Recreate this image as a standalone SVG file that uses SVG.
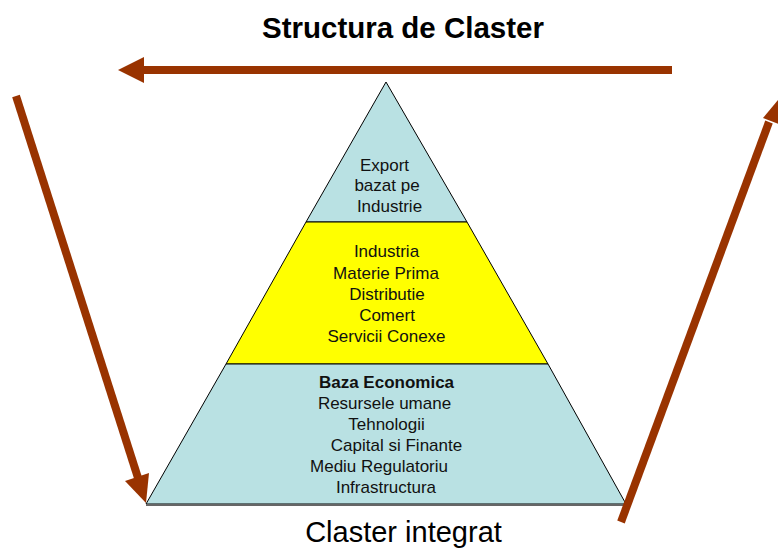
<svg xmlns="http://www.w3.org/2000/svg" width="778" height="549" viewBox="0 0 778 549">
<style>
.t{font-family:"Liberation Sans",Arial,sans-serif;font-size:17px;fill:#111;text-anchor:middle}
.b{font-weight:bold}
.arr{stroke:#993300;stroke-width:8;fill:none}
.head{fill:#993300}
.tier{stroke:#000;stroke-width:1}
</style>
<rect width="778" height="549" fill="#fff"/>
<text x="403" y="38" font-family="Liberation Sans,Arial,sans-serif" font-size="29.5" font-weight="bold" text-anchor="middle" fill="#000">Structura de Claster</text>
<g id="pyramid">
<g id="tier-top">
<polygon class="tier" points="386,82 467,222 306,222" fill="#B9E1E3"/>
<text class="t" x="384.5" y="171">Export</text>
<text class="t" x="387" y="191">bazat pe</text>
<text class="t" x="389.5" y="212">Industrie</text>
</g>
<g id="tier-middle">
<polygon class="tier" points="306,222 467,222 548,364 226,364" fill="#FFFF00"/>
<text class="t" x="386.5" y="257">Industria</text>
<text class="t" x="386" y="279">Materie Prima</text>
<text class="t" x="387" y="300">Distributie</text>
<text class="t" x="387" y="321">Comert</text>
<text class="t" x="386.5" y="342">Servicii Conexe</text>
</g>
<g id="tier-bottom">
<polygon class="tier" points="226,364 548,364 626,504 146,504" fill="#B9E1E3"/>
<line x1="146" y1="505" x2="626" y2="505" stroke="#666" stroke-width="2"/>
<text class="t b" x="386.5" y="388">Baza Economica</text>
<text class="t" x="384.5" y="409">Resursele umane</text>
<text class="t" x="386.5" y="430">Tehnologii</text>
<text class="t" x="396.5" y="451">Capital si Finante</text>
<text class="t" x="379" y="472">Mediu Regulatoriu</text>
<text class="t" x="386" y="493">Infrastructura</text>
</g>
</g>
<g id="connectors">
<line class="arr" x1="672" y1="70" x2="140" y2="70"/>
<polygon class="head" points="118,70 144,57 144,83"/>
<line class="arr" x1="16" y1="96" x2="139" y2="481"/>
<polygon class="head" points="146,503 125,481 149,473"/>
<line class="arr" x1="621" y1="522" x2="769" y2="122"/>
<polygon class="head" points="778,100 781,125 763,118"/>
</g>
<text x="403.5" y="542" font-family="Liberation Sans,Arial,sans-serif" font-size="29" text-anchor="middle" fill="#000">Claster integrat</text>
</svg>
